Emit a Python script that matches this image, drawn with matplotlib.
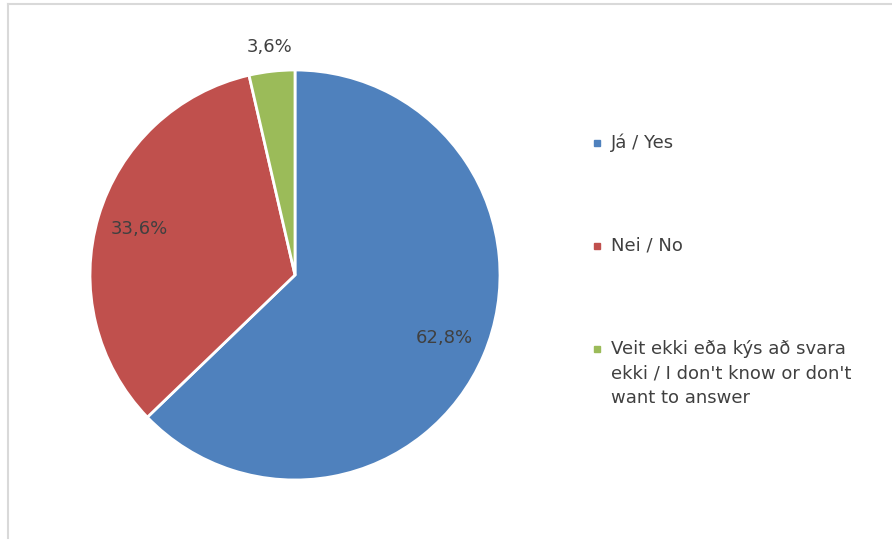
import matplotlib
matplotlib.use("Agg")
from matplotlib import pyplot as plt
from matplotlib.patches import Rectangle
from matplotlib.lines import Line2D

labels = ["Já / Yes", "Nei / No",
          "Veit ekki eða kýs að svara\nekki / I don't know or don't\nwant to answer"]
values = [62.8, 33.6, 3.6]
colors = ["#4F81BD", "#C0504D", "#9BBB59"]

W, H = 892, 543
fig = plt.figure(figsize=(W / 100, H / 100), dpi=100)

# pie axes: centre (295, 275) px, radius 205 px
cx, cy, r = 295, 275, 205
ax = fig.add_axes([(cx - r) / W, (H - cy - r) / H, 2 * r / W, 2 * r / H])


def fmt(pct):
    return f"{pct:.1f}%".replace(".", ",")


wedges, texts, autotexts = ax.pie(
    values, colors=colors, startangle=90, counterclock=False,
    autopct=fmt, pctdistance=0.79, radius=1,
    wedgeprops=dict(edgecolor="white", linewidth=2),
    textprops=dict(fontsize=13, color="#404040"))
ax.set_xlim(-1, 1)
ax.set_ylim(-1, 1)
ax.set_aspect("equal")

# small slice: label sits outside the pie
x, y = autotexts[2].get_position()
autotexts[2].set_position((x / 0.79 * 1.12, y / 0.79 * 1.12))

# legend, drawn by hand to match the spacing
rows = [142, 245, 348]
for lab, col, ry in zip(labels, colors, rows):
    fig.add_artist(Rectangle((594 / W, (H - ry - 4) / H), 6 / W, 6 / H,
                             transform=fig.transFigure, color=col))
    if "\n" in lab:
        fig.text(611 / W, (H - ry + 8) / H, lab, fontsize=13, color="#404040",
                 va="top", linespacing=1.45)
    else:
        fig.text(611 / W, (H - ry - 1) / H, lab, fontsize=13, color="#404040",
                 va="center")

# chart frame
fig.add_artist(Line2D([8 / W, 8 / W], [(H - 538) / H, (H - 4) / H],
                      transform=fig.transFigure, color="#d9d9d9", lw=1.5))
fig.add_artist(Line2D([8 / W, 891 / W], [(H - 4) / H, (H - 4) / H],
                      transform=fig.transFigure, color="#d9d9d9", lw=1.5))

fig.savefig("out.png", dpi=100)
